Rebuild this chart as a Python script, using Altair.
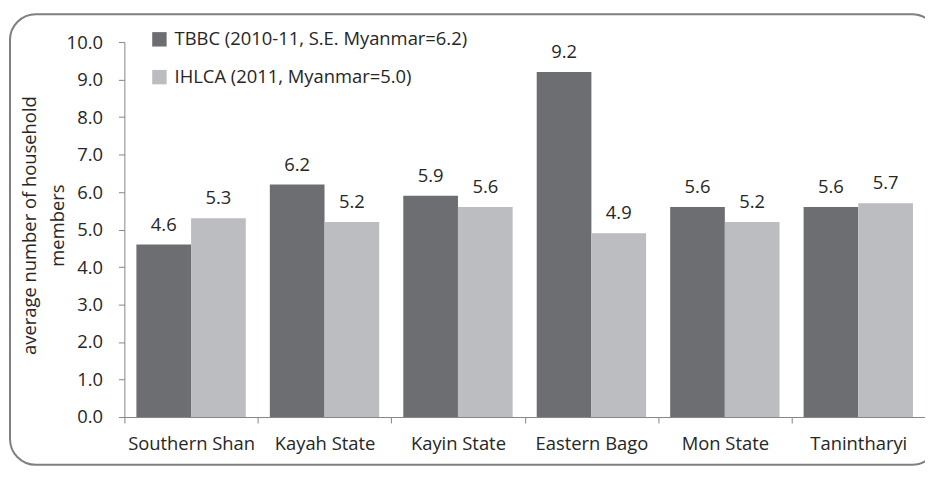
import altair as alt
import pandas as pd

regions = ["Southern Shan", "Kayah State", "Kayin State", "Eastern Bago", "Mon State", "Tanintharyi"]
series = ["TBBC (2010-11, S.E.  Myanmar=6.2)", "IHLCA (2011, Myanmar=5.0)"]
tbbc = [4.6, 6.2, 5.9, 9.2, 5.6, 5.6]
ihlca = [5.3, 5.2, 5.6, 4.9, 5.2, 5.7]
colors = ["#6d6e71", "#bcbdc0"]
y_ticks = [0, 1, 2, 3, 4, 5, 6, 7, 8, 9, 10]
y_title = ["average number of household", "members"]

rows = []
for r, a, b in zip(regions, tbbc, ihlca):
    rows.append({"region": r, "series": series[0], "value": a})
    rows.append({"region": r, "series": series[1], "value": b})
df = pd.DataFrame(rows)

FONT = "Open Sans"
FS = 18.5
TXT = "#262626"
AX = "#868686"
W, H = 805, 377

x_enc = alt.X(
    "region:N", sort=regions, title=None,
    scale=alt.Scale(paddingInner=0, paddingOuter=0),
    axis=alt.Axis(labelAngle=0, tickBand="extent", tickSize=6, domainColor=AX,
                  tickColor=AX, labelFontSize=FS, labelPadding=12, labelColor=TXT,
                  labelFont=FONT, labelLimit=0),
)
y_enc = alt.Y(
    "value:Q",
    scale=alt.Scale(domain=[0, 10], nice=False),
    axis=alt.Axis(values=y_ticks, format=".1f", tickSize=6, grid=False,
                  labelOverlap=False, tickCount=11,
                  domainColor=AX, tickColor=AX, labelFontSize=FS, labelPadding=16,
                  labelColor=TXT, labelFont=FONT, title=y_title,
                  titleFontSize=FS, titleFontWeight="normal", titleFont=FONT,
                  titleColor=TXT, titleAngle=270, titleBaseline="top",
                  titleAlign="center", titleX=-104, titleY=184, titleLineHeight=28),
)
xoff = alt.XOffset("series:N", sort=series,
                   scale=alt.Scale(paddingOuter=0.22, paddingInner=0))

bars = alt.Chart(df).mark_bar().encode(
    x=x_enc, y=y_enc, xOffset=xoff,
    color=alt.Color(
        "series:N", sort=series,
        scale=alt.Scale(domain=series, range=colors),
        legend=alt.Legend(title=None, orient="none", legendX=26, legendY=-12,
                          symbolType="square", symbolSize=210, symbolStrokeWidth=0,
                          labelFontSize=FS, labelFont=FONT, labelColor=TXT,
                          labelLimit=0, rowPadding=19, labelOffset=6, padding=0),
    ),
)

labels = alt.Chart(df).mark_text(
    dy=-14, baseline="alphabetic", fontSize=FS, font=FONT, color=TXT
).encode(
    x=x_enc, y=y_enc, xOffset=xoff,
    text=alt.Text("value:Q", format=".1f"),
)

frame = alt.Chart(pd.DataFrame({"k": [0]})).mark_rect(
    fill=None, stroke="#7f7f7f", strokeWidth=2, cornerRadius=26
).encode(
    x=alt.value(-115), x2=alt.value(818), y=alt.value(-28), y2=alt.value(425)
)

chart = alt.layer(frame, bars, labels).properties(
    width=W, height=H,
    autosize=alt.AutoSizeParams(type="none"),
    padding={"left": 117, "top": 33, "right": 0, "bottom": 50},
    background="white",
).configure_view(stroke=None)

chart.save("out.html", embed_options={"renderer": "svg", "actions": False})
